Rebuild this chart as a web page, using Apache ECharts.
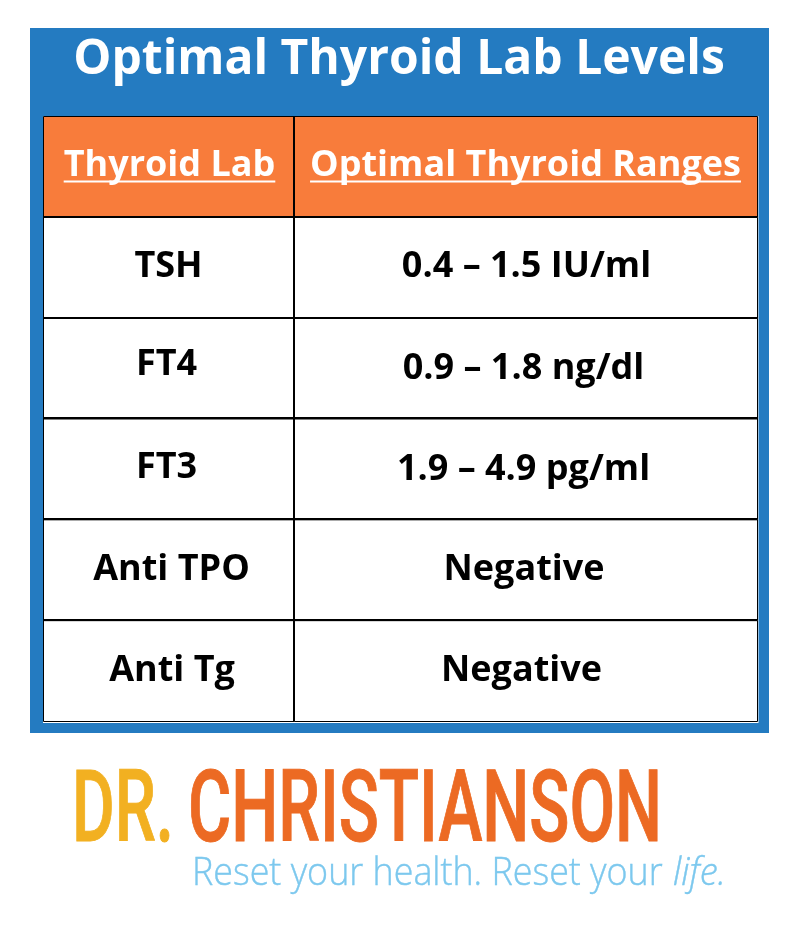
<!DOCTYPE html>
<html>
<head>
<meta charset="utf-8">
<style>
  html, body { margin: 0; padding: 0; background: #fff; }
  #chart { width: 800px; height: 926px; }
</style>
<script src="https://cdn.jsdelivr.net/npm/echarts@6/dist/echarts.min.js"></script>
</head>
<body>
<div id="chart"></div>
<script>
const chartTitle = 'Optimal Thyroid Lab Levels'
const rowNames = ['header', 'r1', 'r2', 'r3', 'r4', 'r5']
const labColumn = ['Thyroid Lab', 'TSH', 'FT4', 'FT3', 'Anti TPO', 'Anti Tg']
const rangeColumn = ['Optimal Thyroid Ranges', '0.4 – 1.5 IU/ml', '0.9 – 1.8 ng/dl', '1.9 – 4.9 pg/ml', 'Negative', 'Negative']
const brandFirst = 'DR.'
const brandLast = 'CHRISTIANSON'
const tagline = 'Reset your health. Reset your '
const taglineEnd = 'life.'

const BLUE = '#247bc1'
const ORANGE = '#f87c3b'
const CELL_FONT = 'bold 36px "Open Sans"'

// small per-row nudges, the source text does not sit dead centre in its cells
const labNudge = [[1, -1], [0, -1], [-2, -3], [-2, -1], [3, 0], [3.5, 0]]
const rangeNudge = [[0, -1], [1, -1], [-2, 1], [-2, 1], [-1.5, 0], [-4, 0]]

const measure = (text, font) => {
  const ctx = document.createElement('canvas').getContext('2d')
  ctx.font = font
  return ctx.measureText(text).width
}

const cellRenderer = (column, nudge) => (params, api) => {
  const row = api.value(0)
  const centre = api.coord([0, row])
  const size = api.size([0, 1])
  const isHeader = row === 0
  const text = column[row]
  const cx = centre[0] + nudge[row][0]
  const cy = centre[1] + nudge[row][1]
  const left = params.coordSys.x
  const top = centre[1] - size[1] / 2
  const children = [{
    type: 'rect',
    shape: { x: left + 0.5, y: top + 0.5, width: params.coordSys.width, height: size[1] },
    style: { fill: isHeader ? ORANGE : '#fff', stroke: '#000', lineWidth: 1 }
  }, {
    type: 'text',
    z2: 5,
    style: {
      text, x: cx, y: cy,
      font: CELL_FONT,
      fill: isHeader ? '#fff' : '#000',
      align: 'center',
      verticalAlign: 'middle'
    }
  }]
  // inner rules are heavier than the outer frame
  if (!isHeader) {
    children.push({
      type: 'rect',
      z2: 4,
      shape: { x: left, y: Math.round(top) - 1, width: params.coordSys.width, height: 2 },
      style: { fill: '#000' }
    })
  }
  if (column === rangeColumn) {
    children.push({
      type: 'rect',
      z2: 4,
      shape: { x: left - 1, y: top, width: 2, height: size[1] },
      style: { fill: '#000' }
    })
  }
  if (isHeader) {
    const w = measure(text, CELL_FONT)
    children.push({
      type: 'rect',
      z2: 5,
      shape: { x: cx - w / 2, y: cy + 15, width: w, height: 2 },
      style: { fill: '#fff' }
    })
  }
  return { type: 'group', children }
}

// squeeze a text into the given width, no condensed display face is installed
const fitted = (text, font, left, right, y, fill, stroke = 0) => {
  const sx = (right - left) / measure(text, font)
  return {
    type: 'text',
    x: left,
    y,
    scaleX: sx,
    z: 3,
    style: { text, font, fill, stroke: stroke ? fill : null, lineWidth: stroke, align: 'left', verticalAlign: 'middle' }
  }
}

const chart = echarts.init(document.getElementById('chart'), null, { renderer: 'canvas' })

const hiddenAxis = { show: false }

chart.setOption({
  backgroundColor: '#fff',
  animation: false,
  grid: [
    { left: 43, top: 116, width: 251, height: 605 },
    { left: 294, top: 116, width: 463, height: 605 }
  ],
  xAxis: [
    { ...hiddenAxis, type: 'category', gridIndex: 0, data: ['lab'] },
    { ...hiddenAxis, type: 'category', gridIndex: 1, data: ['range'] }
  ],
  yAxis: [
    { ...hiddenAxis, type: 'category', gridIndex: 0, inverse: true, data: rowNames },
    { ...hiddenAxis, type: 'category', gridIndex: 1, inverse: true, data: rowNames }
  ],
  graphic: [
    { type: 'rect', z: -1, silent: true, shape: { x: 30, y: 28, width: 739, height: 705 }, style: { fill: BLUE } },
    { type: 'rect', z: -1, silent: true, shape: { x: 43, y: 116, width: 715.5, height: 607 }, style: { fill: '#fff' } },
    {
      type: 'text',
      z: 3,
      x: 399,
      y: 60,
      style: {
        text: chartTitle,
        font: 'bold 48px "Open Sans"',
        fill: '#fff',
        align: 'center',
        verticalAlign: 'middle'
      }
    },
    fitted(brandFirst, '500 100px Roboto', 72, 174, 816, '#f2b021', 1),
    fitted(brandLast, '500 100px Roboto', 188, 662, 816, '#ec6a23', 1),
    fitted(tagline, '300 38px "Open Sans"', 192, 672, 874, '#7cc8ee', 0.4),
    fitted(taglineEnd, 'italic 300 38px "Open Sans"', 673, 726, 874, '#7cc8ee', 0.4)
  ],
  series: [
    {
      type: 'custom',
      xAxisIndex: 0,
      yAxisIndex: 0,
      renderItem: cellRenderer(labColumn, labNudge),
      data: labColumn.map((t, i) => [i])
    },
    {
      type: 'custom',
      xAxisIndex: 1,
      yAxisIndex: 1,
      renderItem: cellRenderer(rangeColumn, rangeNudge),
      data: rangeColumn.map((t, i) => [i])
    }
  ]
})

window.addEventListener('resize', () => chart.resize())
</script>
</body>
</html>
